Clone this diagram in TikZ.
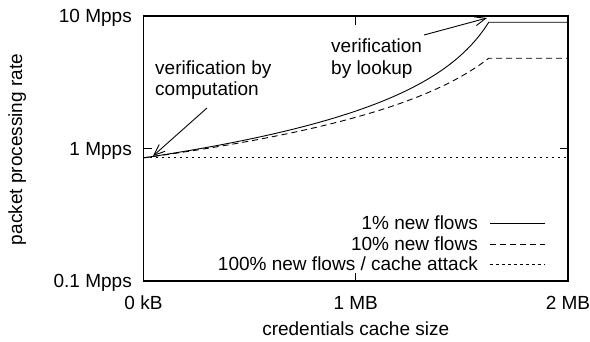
\documentclass[tikz,border=0pt]{standalone}
\usepackage{fontspec}
\setmainfont{Liberation Sans}
\usetikzlibrary{arrows.meta}
\begin{document}
\begin{tikzpicture}[x=1pt,y=-1pt,
  lbl/.style={inner sep=0pt, font=\fontsize{19}{22}\selectfont},
  frame/.style={line width=1.4pt, line join=miter},
  tick/.style={line width=1pt},
  curve/.style={line width=0.9pt},
  dashcurve/.style={curve, dash pattern=on 6pt off 4pt},
  dotcurve/.style={curve, dash pattern=on 2.5pt off 3.5pt},
  pointer/.style={line width=0.9pt, -{Straight Barb[length=11pt,width=9pt]}}]
\useasboundingbox (0,0) rectangle (590,341);

% plot frame: x from 0 to 2 MB, y log scale 0.1 .. 10 Mpps
\coordinate (ll) at (143.5,281);
\coordinate (ur) at (568,16);
\draw[frame] (ll) rectangle (ur);

% ticks (mirrored)
\draw[tick] (143.5,148.5) -- ++(8.5,0);
\draw[tick] (568,148.5) -- ++(-8.5,0);
\draw[tick] (355.75,281) -- ++(0,-8.5);
\draw[tick] (355.75,16) -- ++(0,8.5);

% tick labels
\node[lbl, anchor=base east] (y10) at (132,22.5) {10 Mpps};
\node[lbl, anchor=base east] (y1) at (132,155) {1 Mpps};
\node[lbl, anchor=base east] (y01) at (132,287.5) {0.1 Mpps};
\node[lbl, anchor=base] (x0) at (143.5,309) {0 kB};
\node[lbl, anchor=base] (x1) at (355.75,309) {1 MB};
\node[lbl, anchor=base] (x2) at (568,309) {2 MB};

% axis titles
\node[lbl, anchor=base] (xt) at (355.75,335) {credentials cache size};
\node[lbl, anchor=base, rotate=90] (yt) at (22,149.5) {packet processing rate};

% rate = 1/((1-h)/0.85 + h/10), hit ratio h growing linearly up to the full cache
\draw[curve] plot[domain=0:1, samples=80]
  ({143.5+345.5*\x}, {148.5-132.5*log10(1/((1-0.99*\x)/0.85+0.099*\x))})
  -- ++(79,0);
\draw[dashcurve] plot[domain=0:1, samples=80]
  ({143.5+345.5*\x}, {148.5-132.5*log10(1/((1-0.9*\x)/0.85+0.09*\x))})
  -- ++(79,0);
\draw[dotcurve] (143.5,157.9) -- (568,157.9);

% legend
\node[lbl, anchor=base east] (k1) at (478,229.5) {1\% new flows};
\node[lbl, anchor=base east] (k2) at (478,250.5) {10\% new flows};
\node[lbl, anchor=base east] (k3) at (478,270.5) {100\% new flows / cache attack};
\coordinate (s1a) at (490,223); \coordinate (s1b) at (545,223);
\coordinate (s2a) at (490,244); \coordinate (s2b) at (545,244);
\coordinate (s3a) at (490,264); \coordinate (s3b) at (545,264);
\draw[curve] (s1a) -- (s1b);
\draw[dashcurve] (s2a) -- (s2b);
\draw[dotcurve] (s3a) -- (s3b);

% annotations
\node[lbl, anchor=base west] (ca) at (155,74) {verification by};
\node[lbl, anchor=base west] (cb) at (155,95.5) {computation};
\coordinate (cs) at (207,108);
\coordinate (ct) at (153,156);
\draw[pointer] (cs) -- (ct);

\node[lbl, anchor=base west] (la) at (331,52.5) {verification};
\node[lbl, anchor=base west] (lb) at (331,74) {by lookup};
\coordinate (ls) at (424,35);
\coordinate (lt) at (487,18);
\draw[pointer] (ls) -- (lt);
\end{tikzpicture}
\end{document}
